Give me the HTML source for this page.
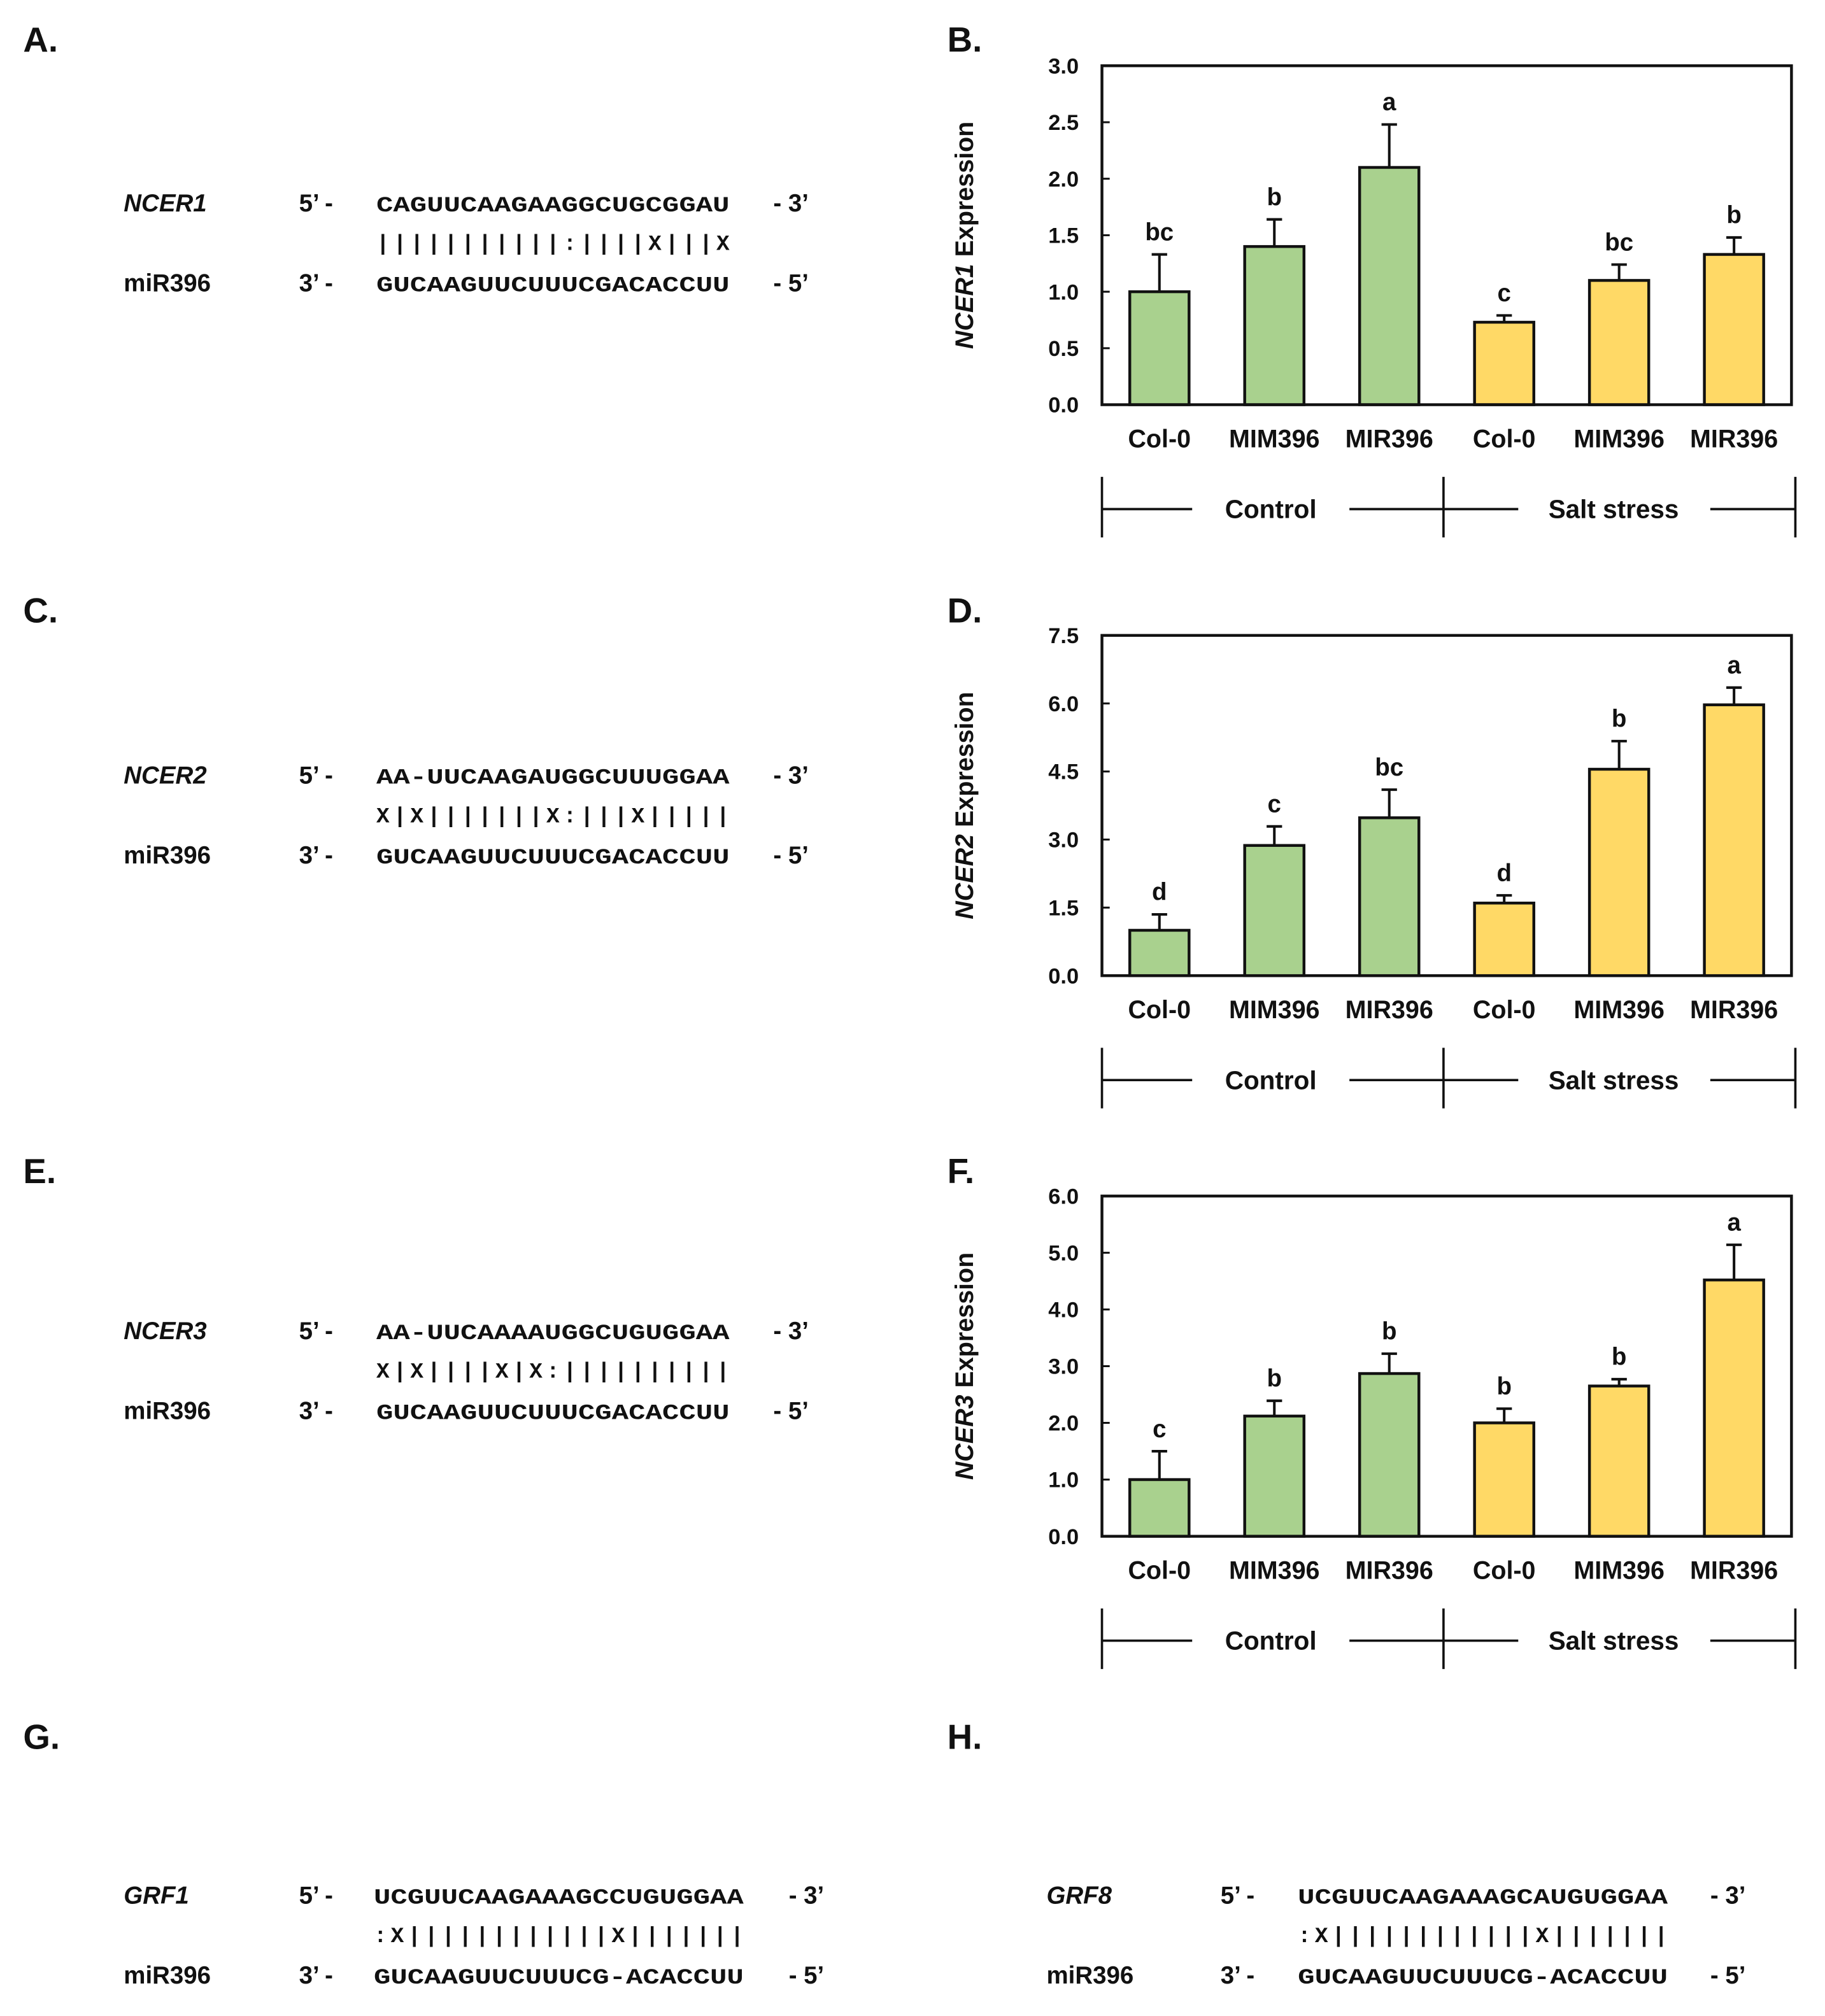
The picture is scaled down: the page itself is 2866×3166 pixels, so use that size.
<!DOCTYPE html>
<html><head><meta charset="utf-8">
<style>
html,body{margin:0;padding:0;background:#fff;}
svg{display:block;}
text{font-family:"Liberation Sans",Arial,sans-serif;fill:#111;}
</style></head>
<body>
<svg id="fig" width="2866" height="3166" viewBox="0 3 1416 1564.2" xmlns="http://www.w3.org/2000/svg">
<g font-weight="bold" font-size="27">
<text x="18" y="43">A.</text>
<text x="735" y="43">B.</text>
<text x="18" y="486">C.</text>
<text x="735" y="486">D.</text>
<text x="18" y="921">E.</text>
<text x="735" y="921">F.</text>
<text x="18" y="1360">G.</text>
<text x="735" y="1360">H.</text>
</g>
<g id="seqs"></g>
<g id="charts"></g>
</svg>
<script>
// ---- Alignment data ----
const alignNames = ["NCER1","NCER2","NCER3","GRF1","GRF8"];
const alignTargets = ["CAGUUCAAGAAGGCUGCGGAU","AA-UUCAAGAUGGCUUUGGAA","AA-UUCAAAAUGGCUGUGGAA","UCGUUCAAGAAAGCCUGUGGAA","UCGUUCAAGAAAGCAUGUGGAA"];
const alignPairs = ["|||||||||||:||||X|||X","X|X|||||||X:|||X|||||","X|X||||X|X:||||||||||",":X||||||||||||X|||||||",":X||||||||||||X|||||||"];
const alignMirs = ["GUCAAGUUCUUUCGACACCUU","GUCAAGUUCUUUCGACACCUU","GUCAAGUUCUUUCGACACCUU","GUCAAGUUCUUUCG-ACACCUU","GUCAAGUUCUUUCG-ACACCUU"];

// ---- Chart data ----
const categories = ["Col-0","MIM396","MIR396","Col-0","MIM396","MIR396"];
const groupLabels = ["Control","Salt stress"];
const ncer1Values = [1.0,1.4,2.1,0.73,1.1,1.33];
const ncer1Errors = [0.33,0.24,0.38,0.06,0.14,0.15];
const ncer1Letters = ["bc","b","a","c","bc","b"];
const ncer1Ticks = ["0.0","0.5","1.0","1.5","2.0","2.5","3.0"];
const ncer2Values = [1.0,2.87,3.48,1.6,4.55,5.97];
const ncer2Errors = [0.35,0.42,0.62,0.17,0.62,0.38];
const ncer2Letters = ["d","c","bc","d","b","a"];
const ncer2Ticks = ["0.0","1.5","3.0","4.5","6.0","7.5"];
const ncer3Values = [1.0,2.12,2.87,2.0,2.65,4.52];
const ncer3Errors = [0.5,0.27,0.35,0.25,0.12,0.62];
const ncer3Letters = ["c","b","b","b","b","a"];
const ncer3Ticks = ["0.0","1.0","2.0","3.0","4.0","5.0","6.0"];

const NS="http://www.w3.org/2000/svg";
function mk(tag, attrs, parent, txt){
  const e=document.createElementNS(NS,tag);
  for(const k in attrs) e.setAttribute(k,attrs[k]);
  if(txt!==undefined) e.textContent=txt;
  parent.appendChild(e); return e;
}
const SEQSTYLE='font-family:"Liberation Mono","DejaVu Sans Mono",monospace;font-weight:bold;font-size:17px;';

// ---- Alignments ----
const seqG=document.getElementById('seqs');
const alignPos=[
  {y:160,nx:96,px:232,sx:292,sw:274,ex:600},
  {y:604,nx:96,px:232,sx:292,sw:274,ex:600},
  {y:1035,nx:96,px:232,sx:292,sw:274,ex:600},
  {y:1473,nx:96,px:232,sx:290,sw:287,ex:612},
  {y:1473,nx:812,px:947,sx:1007,sw:287,ex:1327}
];
alignNames.forEach((nm,i)=>{
  const p=alignPos[i];
  const g=mk('g',{},seqG);
  
  
  const base=p.y+7, mb=p.y+69, pb=p.y+37;
  const t1=mk('text',{x:p.nx,y:base,'font-size':19,'font-weight':'bold','font-style':'italic'},g,nm);
  
  
  mk('text',{x:p.px,y:base,'font-size':19,'font-weight':'bold'},g,"5’ -");
  mk('text',{x:p.ex,y:base,'font-size':19,'font-weight':'bold'},g,"- 3’");
  const t2=mk('text',{x:p.sx,y:base,style:SEQSTYLE,textLength:p.sw,lengthAdjust:'spacingAndGlyphs'},g,alignTargets[i]);
  
  
  const t3=mk('text',{x:p.sx,y:pb,style:SEQSTYLE,textLength:p.sw,lengthAdjust:'spacing'},g,alignPairs[i]);
  
  
  const t4=mk('text',{x:p.nx,y:mb,'font-size':19,'font-weight':'bold'},g,"miR396");
  
  
  mk('text',{x:p.px,y:mb,'font-size':19,'font-weight':'bold'},g,"3’ -");
  mk('text',{x:p.ex,y:mb,'font-size':19,'font-weight':'bold'},g,"- 5’");
  const t5=mk('text',{x:p.sx,y:mb,style:SEQSTYLE,textLength:p.sw,lengthAdjust:'spacingAndGlyphs'},g,alignMirs[i]);
  
  
});

// ---- Charts ----
const chG=document.getElementById('charts');
const colors=["#a9d18e","#a9d18e","#a9d18e","#ffd966","#ffd966","#ffd966"];
function drawChart(name,top,bottom,vals,errs,letters,ticks){
  const L=855,R=1390;
  const tv=ticks.map(Number), ymax=tv[tv.length-1];
  const y=v=>bottom-(v/ymax)*(bottom-top);
  const band=(R-L)/vals.length;
  const x=i=>L+(i+0.5)*band;
  const g=mk('g',{},chG);
  
  
  ticks.forEach((t,i)=>{
    const yy=y(tv[i]);
    mk('line',{x1:L,x2:L+6,y1:yy,y2:yy,stroke:'#111','stroke-width':1.5},g);
    const tl=mk('text',{x:837,y:yy+6,'font-size':17,'font-weight':'bold','text-anchor':'end'},g,t);
    
    
  });
  vals.forEach((v,i)=>{
    const cx=x(i), bw=46;
    const r=mk('rect',{x:cx-bw/2,y:y(v),width:bw,height:bottom-y(v),fill:colors[i],stroke:'#111','stroke-width':2.2},g);
    
    
    const et=y(v+errs[i]);
    const e=mk('path',{d:`M${cx},${y(v)}V${et}M${cx-6},${et}H${cx+6}`,stroke:'#111','stroke-width':2,fill:'none'},g);
    
    
    const lt=mk('text',{x:cx,y:et-11,'font-size':19,'font-weight':'bold','text-anchor':'middle'},g,letters[i]);
    
    
    const cl=mk('text',{x:cx,y:bottom+33,'font-size':19.5,'font-weight':'bold','text-anchor':'middle'},g,categories[i]);
    
    
  });
  mk('rect',{x:L,y:top,width:R-L,height:bottom-top,fill:'none',stroke:'#111','stroke-width':2.2},g);
  const yt=mk('text',{transform:`translate(755,${(top+bottom)/2}) rotate(-90)`,'font-size':19.5,'font-weight':'bold','text-anchor':'middle'},g);
  
  
  mk('tspan',{'font-style':'italic'},yt,name.toUpperCase());
  mk('tspan',{},yt," Expression");
  const by=bottom+81, b1=bottom+56, b2=bottom+103;
  const br=mk('g',{stroke:'#111','stroke-width':1.8},g);
  
  
  [855,1120,1393].forEach(xx=>mk('line',{x1:xx,x2:xx,y1:b1,y2:b2},br));
  [[855,925],[1047,1178],[1327,1393]].forEach(s=>mk('line',{x1:s[0],x2:s[1],y1:by,y2:by},br));
  const g1=mk('text',{x:986,y:by+7,'font-size':20,'font-weight':'bold','text-anchor':'middle'},g,groupLabels[0]);
  
  
  const g2=mk('text',{x:1252,y:by+7,'font-size':20,'font-weight':'bold','text-anchor':'middle'},g,groupLabels[1]);
  
  
}
drawChart('ncer1',54,317,ncer1Values,ncer1Errors,ncer1Letters,ncer1Ticks);
drawChart('ncer2',496,760,ncer2Values,ncer2Errors,ncer2Letters,ncer2Ticks);
drawChart('ncer3',931,1195,ncer3Values,ncer3Errors,ncer3Letters,ncer3Ticks);
</script>
</body></html>
